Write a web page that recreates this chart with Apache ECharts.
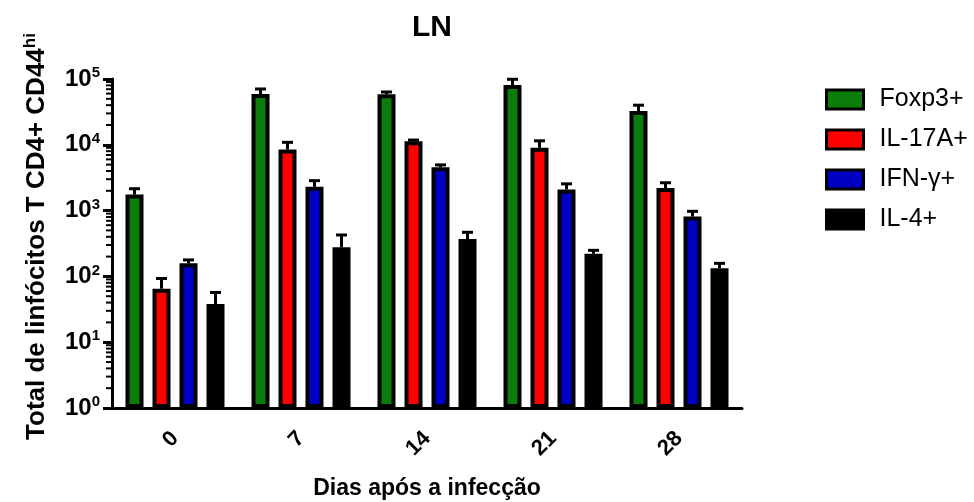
<!DOCTYPE html>
<html>
<head>
<meta charset="utf-8">
<script src="https://cdn.jsdelivr.net/npm/echarts@6/dist/echarts.min.js"></script>
<style>
html,body{margin:0;padding:0;background:#fff;}
#chart{width:974px;height:502px;}
</style>
</head>
<body>
<div id="chart"></div>
<script>
const categories = ['0', '7', '14', '21', '28'];
const seriesNames = ['Foxp3+', 'IL-17A+', 'IFN-γ+', 'IL-4+'];
// mean values
const foxp3 = [1750, 59000, 58500, 81000, 32500];
const il17a = [65, 8500, 11300, 9000, 2200];
const ifng = [158, 2300, 4550, 2100, 810];
const il4 = [38, 277, 370, 221, 133];
// upper end of error bars
const foxp3Upper = [2150, 70500, 63500, 99000, 40000];
const il17aUpper = [93, 10900, 11800, 11500, 2650];
const ifngUpper = [178, 2850, 4950, 2550, 975];
const il4Upper = [57, 426, 468, 249, 158];
// log axis minor tick values
const minorTicks = [2,3,4,5,6,7,8,9,20,30,40,50,60,70,80,90,200,300,400,500,600,700,800,900,
  2000,3000,4000,5000,6000,7000,8000,9000,20000,30000,40000,50000,60000,70000,80000,90000];

const means = [foxp3, il17a, ifng, il4];
const uppers = [foxp3Upper, il17aUpper, ifngUpper, il4Upper];
const colors = ['#0a7d0a', '#ff0000', '#0000c4', '#000000'];
const FONT = "'Liberation Sans', Arial, sans-serif";
const BAR_W = 18;
const BAR_GAP = 0.5;

const chart = echarts.init(document.getElementById('chart'));

const series = [];
means.forEach((arr, i) => {
  series.push({
    name: seriesNames[i],
    type: 'bar',
    data: arr,
    barWidth: BAR_W,
    barGap: (BAR_GAP * 100) + '%',
    itemStyle: { color: colors[i], borderColor: '#000', borderWidth: 4 },
    emphasis: { disabled: true },
    z: 2
  });
});
const step = BAR_W * (1 + BAR_GAP);
means.forEach((arr, i) => {
  const offset = (i - 1.5) * step;
  series.push({
    name: 'err' + i,
    type: 'custom',
    data: arr.map((v, j) => [j, v, uppers[i][j]]),
    encode: { x: 0, y: [1, 2] },
    z: 3,
    silent: true,
    clip: false,
    renderItem: function (params, api) {
      const p0 = api.coord([api.value(0), api.value(1)]);
      const p1 = api.coord([api.value(0), api.value(2)]);
      const x = p0[0] + offset;
      return {
        type: 'group',
        children: [
          { type: 'line', shape: { x1: x, y1: p0[1], x2: x, y2: p1[1] }, style: { stroke: '#000', lineWidth: 3 } },
          { type: 'line', shape: { x1: x - 5.5, y1: p1[1], x2: x + 5.5, y2: p1[1] }, style: { stroke: '#000', lineWidth: 3 } }
        ]
      };
    }
  });
});
series.push({
  name: 'minor',
  type: 'custom',
  data: minorTicks.map(v => [0, v]),
  encode: { x: 0, y: 1 },
  silent: true,
  clip: false,
  z: 4,
  renderItem: function (params, api) {
    const p = api.coord([0, api.value(1)]);
    const band = api.size([1, 0])[0];
    const x = p[0] - band / 2;
    return { type: 'line', shape: { x1: x - 6, y1: p[1], x2: x, y2: p[1] }, style: { stroke: '#000', lineWidth: 2 } };
  }
});

chart.setOption({
  animation: false,
  backgroundColor: '#fff',
  title: {
    text: 'LN',
    left: 427, top: 8,
    textAlign: 'center',
    textStyle: { fontFamily: FONT, fontSize: 30, fontWeight: 'bold', color: '#000' }
  },
  legend: {
    data: seriesNames,
    orient: 'vertical',
    left: 820, top: 82,
    itemWidth: 37, itemHeight: 19,
    itemGap: 15,
    icon: 'rect',
    itemStyle: { borderColor: '#000', borderWidth: 3 },
    textStyle: { fontFamily: FONT, fontSize: 25, color: '#000', padding: [0, 0, 0, 11] },
    selectedMode: false
  },
  grid: { left: 112, right: 232, top: 79, bottom: 94, containLabel: false, outerBoundsMode: 'none' },
  xAxis: {
    type: 'category',
    data: categories,
    name: 'Dias após a infecção',
    nameLocation: 'middle',
    nameGap: 69,
    nameTextStyle: { fontFamily: FONT, fontSize: 23, fontWeight: 'bold', color: '#000' },
    axisLine: { lineStyle: { color: '#000', width: 3 } },
    axisTick: { alignWithLabel: true, length: 9, lineStyle: { color: '#000', width: 3 } },
    axisLabel: { rotate: 45, margin: 27, fontFamily: FONT, fontSize: 22, fontWeight: 'bold', color: '#000' },
    splitLine: { show: false }
  },
  yAxis: {
    type: 'log',
    logBase: 10,
    min: 1, max: 100000,
    name: 'Total de linfócitos T CD4+ {s|CD44}{h|hi}',
    nameLocation: 'middle',
    nameGap: 61,
    nameTextStyle: {
      fontFamily: FONT, fontSize: 26, fontWeight: 'bold', color: '#000',
      padding: [0, 0, 0, 14],
      rich: {
        s: { fontFamily: FONT, fontSize: 26, fontWeight: 'bold', color: '#000', lineHeight: 29 },
        h: { fontFamily: FONT, fontSize: 17, fontWeight: 'bold', color: '#000', lineHeight: 17, verticalAlign: 'top' }
      }
    },
    axisLine: { show: true, lineStyle: { color: '#000', width: 3 } },
    axisTick: { show: true, length: 9, lineStyle: { color: '#000', width: 3 } },
    axisLabel: {
      margin: 12,
      formatter: function (v) {
        const e = Math.round(Math.log10(v));
        return '{b|10}{s|' + e + '}';
      },
      rich: {
        b: { fontFamily: FONT, fontSize: 24, fontWeight: 'bold', color: '#000', lineHeight: 27 },
        s: { fontFamily: FONT, fontSize: 15, fontWeight: 'bold', color: '#000', lineHeight: 15, verticalAlign: 'top' }
      }
    },
    splitLine: { show: false }
  },
  series: series
});
</script>
</body>
</html>
